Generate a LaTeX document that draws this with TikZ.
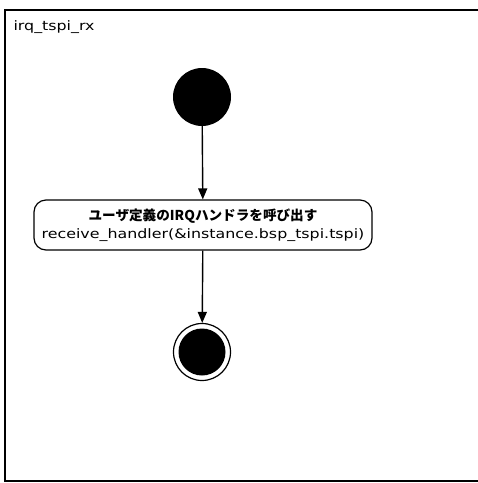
\documentclass[tikz,border=0pt]{standalone}
\usepackage{fontspec}
\setmainfont{DejaVu Sans}[FakeStretch=1.22]
\newfontfamily\jpfont{Noto Sans CJK JP}
\usetikzlibrary{arrows.meta,positioning}

\tikzset{
  initial/.style={circle, fill=black, minimum size=58pt, inner sep=0pt},
  final/.style={circle, draw=black, line width=1.2pt, minimum size=57pt, inner sep=0pt},
  finaldot/.style={circle, fill=black, minimum size=47pt, inner sep=0pt},
  action/.style={draw=black, line width=1.2pt, rounded corners=12pt, minimum width=338pt,
    minimum height=50pt, align=center, font=\fontsize{13}{18}\selectfont},
  flow/.style={line width=1.4pt, -{Triangle[width=9pt,length=11pt]}},
}

\begin{document}
\begin{tikzpicture}[x=1pt,y=-1pt]
  %%%%% START %%%%%
  \useasboundingbox (0,0) rectangle (478,483);
  \clip (0,0) rectangle (478,483);

  % frame
  \draw[line width=2pt] (490,10) -- (5,10) -- (5,481) -- (490,481);
  \node[anchor=west, font=\fontsize{13}{15}\selectfont] (title) at (10,27) {irq\_tspi\_rx};

  \node[initial] (start) at (202,97) {};
  \node[action] (call) at (203,225)
    {{\jpfont\fontsize{13.6}{18}\selectfont\bfseries ユーザ定義のIRQハンドラを呼び出す}\\receive\_handler(\&instance.bsp\_tspi.tspi)};
  \node[final] (stop) at (202,352) {};
  \node[finaldot] (stopdot) at (stop) {};

  \draw[flow] (start) -- (call);
  \draw[flow] (call) -- (stop);
  %%%%% END %%%%%
\end{tikzpicture}
\end{document}
